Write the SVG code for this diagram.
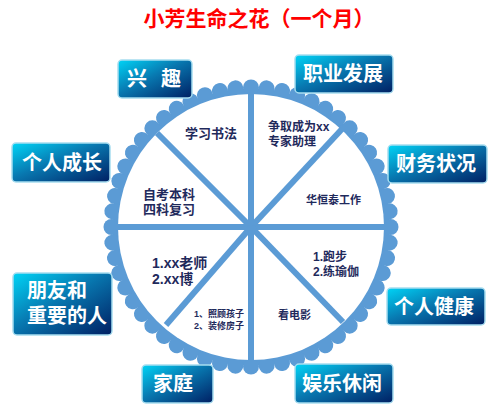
<svg xmlns="http://www.w3.org/2000/svg" width="500" height="420" viewBox="0 0 500 420">
<defs>
<linearGradient id="bg" x1="0" y1="0" x2="1" y2="1">
<stop offset="0" stop-color="#00D4F6"/>
<stop offset="0.45" stop-color="#0878B0"/>
<stop offset="1" stop-color="#001F63"/>
</linearGradient>
<circle id="sc" cx="251" cy="87.5" r="8" fill="#5B9BD5"/>
<style>
.box{fill:url(#bg);stroke:#A6DDF0;stroke-width:1.5}
.bt{font-family:"Liberation Sans","Noto Sans CJK SC",sans-serif;font-weight:bold;font-size:20px;fill:#fff}
.it{font-family:"Liberation Sans","Noto Sans CJK SC",sans-serif;font-weight:bold;fill:#1F2A5C}
.ln{stroke:#5B9BD5;stroke-width:6;stroke-linecap:butt}
</style>
</defs>
<rect width="500" height="420" fill="#fff"/>
<text x="259" y="26" text-anchor="middle" font-family="Liberation Sans, Noto Sans CJK SC, sans-serif" font-weight="bold" font-size="21" fill="#FF0000">小芳生命之花（一个月）</text>
<g id="flower">
<circle cx="251" cy="227" r="139" fill="#5B9BD5"/>
<use href="#sc"/>
<use href="#sc" transform="rotate(6.4286 251 227)"/>
<use href="#sc" transform="rotate(12.857 251 227)"/>
<use href="#sc" transform="rotate(19.286 251 227)"/>
<use href="#sc" transform="rotate(25.714 251 227)"/>
<use href="#sc" transform="rotate(32.143 251 227)"/>
<use href="#sc" transform="rotate(38.571 251 227)"/>
<use href="#sc" transform="rotate(45 251 227)"/>
<use href="#sc" transform="rotate(51.429 251 227)"/>
<use href="#sc" transform="rotate(57.857 251 227)"/>
<use href="#sc" transform="rotate(64.286 251 227)"/>
<use href="#sc" transform="rotate(70.714 251 227)"/>
<use href="#sc" transform="rotate(77.143 251 227)"/>
<use href="#sc" transform="rotate(83.571 251 227)"/>
<use href="#sc" transform="rotate(90 251 227)"/>
<use href="#sc" transform="rotate(96.429 251 227)"/>
<use href="#sc" transform="rotate(102.857 251 227)"/>
<use href="#sc" transform="rotate(109.286 251 227)"/>
<use href="#sc" transform="rotate(115.714 251 227)"/>
<use href="#sc" transform="rotate(122.143 251 227)"/>
<use href="#sc" transform="rotate(128.571 251 227)"/>
<use href="#sc" transform="rotate(135 251 227)"/>
<use href="#sc" transform="rotate(141.429 251 227)"/>
<use href="#sc" transform="rotate(147.857 251 227)"/>
<use href="#sc" transform="rotate(154.286 251 227)"/>
<use href="#sc" transform="rotate(160.714 251 227)"/>
<use href="#sc" transform="rotate(167.143 251 227)"/>
<use href="#sc" transform="rotate(173.571 251 227)"/>
<use href="#sc" transform="rotate(180 251 227)"/>
<use href="#sc" transform="rotate(186.429 251 227)"/>
<use href="#sc" transform="rotate(192.857 251 227)"/>
<use href="#sc" transform="rotate(199.286 251 227)"/>
<use href="#sc" transform="rotate(205.714 251 227)"/>
<use href="#sc" transform="rotate(212.143 251 227)"/>
<use href="#sc" transform="rotate(218.571 251 227)"/>
<use href="#sc" transform="rotate(225 251 227)"/>
<use href="#sc" transform="rotate(231.429 251 227)"/>
<use href="#sc" transform="rotate(237.857 251 227)"/>
<use href="#sc" transform="rotate(244.286 251 227)"/>
<use href="#sc" transform="rotate(250.714 251 227)"/>
<use href="#sc" transform="rotate(257.143 251 227)"/>
<use href="#sc" transform="rotate(263.571 251 227)"/>
<use href="#sc" transform="rotate(270 251 227)"/>
<use href="#sc" transform="rotate(276.429 251 227)"/>
<use href="#sc" transform="rotate(282.857 251 227)"/>
<use href="#sc" transform="rotate(289.286 251 227)"/>
<use href="#sc" transform="rotate(295.714 251 227)"/>
<use href="#sc" transform="rotate(302.143 251 227)"/>
<use href="#sc" transform="rotate(308.571 251 227)"/>
<use href="#sc" transform="rotate(315 251 227)"/>
<use href="#sc" transform="rotate(321.429 251 227)"/>
<use href="#sc" transform="rotate(327.857 251 227)"/>
<use href="#sc" transform="rotate(334.286 251 227)"/>
<use href="#sc" transform="rotate(340.714 251 227)"/>
<use href="#sc" transform="rotate(347.143 251 227)"/>
<use href="#sc" transform="rotate(353.571 251 227)"/>
<circle cx="251" cy="227" r="133" fill="#fff"/>
</g>
<g id="connectors">
<line class="ln" x1="105" y1="227" x2="397" y2="227"/>
<line class="ln" x1="251" y1="84" x2="251" y2="372"/>
<line class="ln" x1="157" y1="133" x2="251" y2="227"/>
<line class="ln" x1="342" y1="129" x2="251" y2="227"/>
<line class="ln" x1="166" y1="325" x2="251" y2="227"/>
<line class="ln" x1="343" y1="322" x2="251" y2="227"/>
</g>
<g id="n1"><rect class="box" x="118" y="60" width="74" height="38" rx="4"/><text class="bt" x="127" y="86">兴</text><text class="bt" x="161" y="86">趣</text></g>
<g id="n2"><rect class="box" x="295" y="55" width="98" height="38" rx="4"/><text class="bt" x="303" y="81">职业发展</text></g>
<g id="n3"><rect class="box" x="12" y="143" width="98" height="39" rx="4"/><text class="bt" x="22" y="170">个人成长</text></g>
<g id="n4"><rect class="box" x="388" y="145" width="99" height="38" rx="4"/><text class="bt" x="396" y="171">财务状况</text></g>
<g id="n5"><rect class="box" x="13" y="273" width="99" height="62" rx="4"/><text class="bt" x="27" y="298">朋友和</text><text class="bt" x="27" y="323">重要的人</text></g>
<g id="n6"><rect class="box" x="387" y="288" width="98" height="37" rx="4"/><text class="bt" x="394" y="314">个人健康</text></g>
<g id="n7"><rect class="box" x="142" y="365" width="71" height="38" rx="4"/><text class="bt" x="153" y="391">家庭</text></g>
<g id="n8"><rect class="box" x="295" y="364" width="98" height="39" rx="4"/><text class="bt" x="302" y="391">娱乐休闲</text></g>
<g id="s1"><text class="it" x="185" y="138" font-size="13">学习书法</text></g>
<g id="s2"><text class="it" x="268" y="131" font-size="12">争取成为xx</text><text class="it" x="268" y="146" font-size="12">专家助理</text></g>
<g id="s3"><text class="it" x="143" y="199" font-size="13">自考本科</text><text class="it" x="143" y="214" font-size="13">四科复习</text></g>
<g id="s4"><text class="it" x="306" y="204" font-size="11">华恒泰工作</text></g>
<g id="s5"><text class="it" x="152" y="268" font-size="14">1.xx老师</text><text class="it" x="152" y="284" font-size="14">2.xx博</text></g>
<g id="s6"><text class="it" x="313" y="261" font-size="12">1.跑步</text><text class="it" x="313" y="276" font-size="12">2.练瑜伽</text></g>
<g id="s7"><text class="it" x="194" y="317" font-size="9">1、照顾孩子</text><text class="it" x="194" y="329" font-size="9">2、装修房子</text></g>
<g id="s8"><text class="it" x="278" y="319" font-size="11">看电影</text></g>
</svg>
